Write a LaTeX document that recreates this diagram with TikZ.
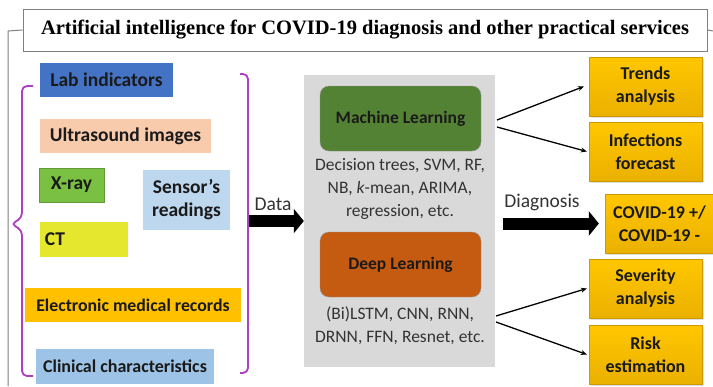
\documentclass[tikz,border=0pt]{standalone}
\usepackage{fontspec}
\setmainfont{Carlito}
\newfontfamily\titlefont{Liberation Serif}
\usetikzlibrary{arrows.meta,shadows}
\definecolor{labblue}{HTML}{4472C4}
\definecolor{peach}{HTML}{F8CBAD}
\definecolor{xgreen}{HTML}{7AC143}
\definecolor{ctyellow}{HTML}{E5E62E}
\definecolor{sensorblue}{HTML}{BDD7EE}
\definecolor{gold}{HTML}{FFC000}
\definecolor{clinblue}{HTML}{9DC3E6}
\definecolor{panelgray}{HTML}{D9D9D9}
\definecolor{mlgreen}{HTML}{548235}
\definecolor{dlorange}{HTML}{C55A11}
\definecolor{brack}{HTML}{AE3EC2}
\definecolor{txt}{HTML}{1A1A1A}
\definecolor{lbl}{HTML}{333333}
\definecolor{frame}{HTML}{808080}
\tikzset{
  lbox/.style={inner sep=0pt, font=\fontsize{19.5}{22}\selectfont\bfseries, text=txt, align=center},
  rbox/.style={inner sep=0pt, font=\fontsize{18}{23}\selectfont\bfseries, text=txt, align=center,
    top color=gold!90!yellow, bottom color=gold!92!black, draw=gold!80!black, line width=0.3pt,
    drop shadow={opacity=0.25, shadow xshift=1.5pt, shadow yshift=-1.5pt},
    minimum width=113pt, minimum height=59pt},
  algbox/.style={rounded corners=9pt, draw=black!40, line width=0.4pt, inner sep=0pt,
    minimum width=161pt, minimum height=65pt, font=\fontsize{17.5}{20}\selectfont\bfseries, text=txt},
  algtext/.style={font=\fontsize{17.5}{23}\selectfont, text=lbl, align=center},
  fanline/.style={line width=1.3pt, -{Stealth[length=6pt,width=5pt]}},
  bigarrow/.style={line width=12pt, -{Triangle[length=10pt,width=24pt]}},
  brline/.style={draw=brack, line width=1.8pt, rounded corners=5pt},
  arrlabel/.style={font=\fontsize{19.5}{22}\selectfont, text=lbl},
}
\begin{document}
\begin{tikzpicture}[x=1pt,y=-1pt]
\useasboundingbox[fill=white] (0,0) rectangle (713,386);
% title
\node[draw=frame, line width=0.8pt, minimum width=684pt, minimum height=42pt, inner sep=0pt,
  font=\titlefont\bfseries\fontsize{20.5}{24}\selectfont] (title) at (365,30) {Artificial intelligence for COVID-19 diagnosis and other practical services};
\coordinate (tl) at (8,31);
\coordinate (bl) at (8,386);
\coordinate (tr) at (713,31);
\draw[frame, line width=1pt] (bl) -- (tl) -- (title.west);
\draw[frame, line width=1pt] (title.east) -- (tr);
% left boxes
\node[lbox, fill=labblue, minimum width=133pt, minimum height=34pt] (lab) at (106.5,80) {Lab indicators};
\node[lbox, fill=peach, minimum width=171pt, minimum height=34pt] (ultra) at (125.5,136) {Ultrasound images};
\node[lbox, fill=xgreen, draw=xgreen!80!black, line width=0.3pt, minimum width=65pt, minimum height=34pt] (xray) at (71.5,185) {X-ray};
\node[lbox, fill=ctyellow, minimum width=88pt, minimum height=35pt, text width=78pt, align=left] (ct) at (84,239.5) {CT};
\node[lbox, fill=sensorblue, minimum width=87pt, minimum height=60pt, font=\fontsize{19.5}{23}\selectfont\bfseries] (sensor) at (186.5,200) {Sensor's\\readings};
\node[lbox, fill=gold, minimum width=216pt, minimum height=34pt, font=\fontsize{17.8}{20}\selectfont\bfseries] (emr) at (133,305) {Electronic medical records};
\node[lbox, fill=clinblue, minimum width=178pt, minimum height=35pt, font=\fontsize{18}{20}\selectfont\bfseries] (clin) at (125,366.5) {Clinical characteristics};
% brackets
\coordinate (lb1) at (33,86);
\coordinate (lb2) at (33,376);
\draw[brline] (lb1) -- (22,86) -- (22,218) -- (11,224) -- (22,230) -- (22,376) -- (lb2);
\coordinate (rb1) at (240,74);
\coordinate (rb2) at (240,373);
\coordinate (dstart) at (249,221);
\draw[brline] (rb1) -- (248,74) -- (248,373) -- (rb2);
% panel
\node[fill=panelgray, minimum width=191pt, minimum height=292pt, inner sep=0pt] (panel) at (399.5,221) {};
\node[algbox, fill=mlgreen] (ml) at (400.5,118.5) {Machine Learning};
\node[algtext] (mltext) at (400,189) {Decision trees, SVM, RF,\\NB, \textit{k}-mean, ARIMA,\\regression, etc.};
\node[algbox, fill=dlorange] (dl) at (400.5,264.5) {Deep Learning};
\node[algtext] (dltext) at (400,326) {(Bi)LSTM, CNN, RNN,\\DRNN, FFN, Resnet, etc.};
% data arrow
\draw[bigarrow] (dstart) -- (panel.west);
\node[arrlabel] (datal) at (273,204) {Data};
% right boxes
\node[rbox] (trends) at (645.5,86.5) {Trends\\analysis};
\node[rbox] (infect) at (645.5,151.5) {Infections\\forecast};
\node[rbox, minimum width=109pt] (covid) at (659.5,223.5) {COVID-19 +/\\COVID-19 -};
\node[rbox] (sever) at (645.5,288.5) {Severity\\analysis};
\node[rbox] (risk) at (645.5,354.5) {Risk\\estimation};
% diagnosis arrow
\draw[bigarrow, shorten <=8pt, shorten >=6pt] (panel.east |- covid.west) -- (covid.west);
\node[arrlabel] (diagl) at (542,202) {Diagnosis};
% fan lines
\coordinate (f1) at (497,120);
\coordinate (f2) at (497,127);
\coordinate (f3) at (496,316);
\coordinate (f4) at (496,322);
\draw[fanline] (f1) -- ([xshift=-5pt]trends.west);
\draw[fanline] (f2) -- ([xshift=-2pt]infect.west);
\draw[fanline] (f3) -- ([xshift=-2pt]sever.west);
\draw[fanline] (f4) -- ([xshift=-2pt]risk.west);
\end{tikzpicture}
\end{document}
